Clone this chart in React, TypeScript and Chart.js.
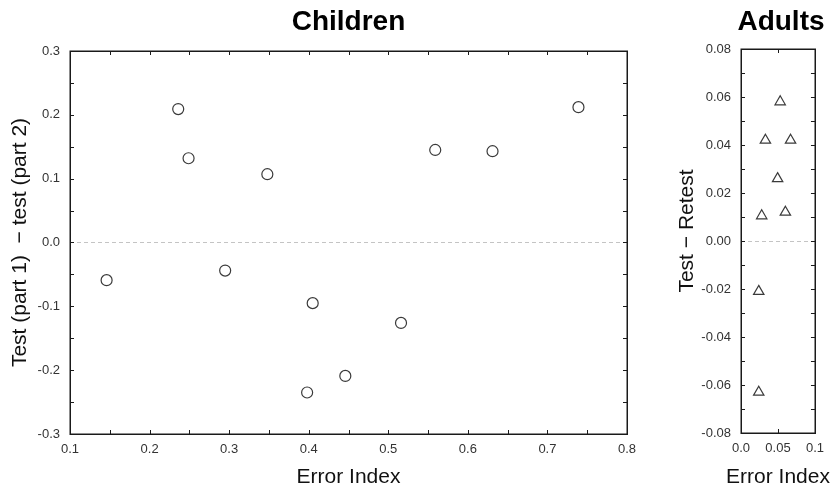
import React, { useEffect, useRef } from 'react';
import { Chart, registerables } from 'chart.js';

Chart.register(...registerables);

// ---- Data ----
const childErrorIndex = [0.146, 0.236, 0.249, 0.295, 0.348, 0.398, 0.405, 0.446, 0.516, 0.559, 0.631, 0.739];
const childDifference = [-0.059, 0.209, 0.132, -0.044, 0.107, -0.235, -0.095, -0.209, -0.126, 0.145, 0.143, 0.212];

const adultErrorIndex = [0.053, 0.033, 0.067, 0.0495, 0.028, 0.06, 0.024, 0.024];
const adultDifference = [0.058, 0.042, 0.042, 0.026, 0.0105, 0.012, -0.021, -0.063];

const childXTickLabels = ['0.1', '0.2', '0.3', '0.4', '0.5', '0.6', '0.7', '0.8'];
const childYTickLabels = ['-0.3', '-0.2', '-0.1', '0.0', '0.1', '0.2', '0.3'];
const adultXTickLabels = ['0.0', '0.05', '0.1'];
const adultYTickLabels = ['-0.08', '-0.06', '-0.04', '-0.02', '0.00', '0.02', '0.04', '0.06', '0.08'];

const childTitle = 'Children';
const adultTitle = 'Adults';
const childYTitle = 'Test (part 1)  \u2212 test (part 2)';
const adultYTitle = 'Test \u2212 Retest';
const xTitle = 'Error Index';

const FONT = '"Liberation Sans", Arial, Helvetica, sans-serif';

const panelPlugin = {
  id: 'panel',
  afterDatasetsDraw(chart: any, _args: any, opts: any) {
    const { ctx, chartArea: a, scales } = chart;
    const xs = scales.x;
    const ys = scales.y;
    ctx.save();
    // inward tick marks
    ctx.strokeStyle = opts.frameColor;
    ctx.lineWidth = 1;
    ctx.beginPath();
    const nx = Math.round((xs.max - xs.min) / opts.xStep);
    for (let i = 0; i <= nx; i++) {
      const p = Math.round(xs.getPixelForValue(xs.min + i * opts.xStep)) + 0.5;
      ctx.moveTo(p, a.bottom);
      ctx.lineTo(p, a.bottom - opts.tickLen);
      ctx.moveTo(p, a.top);
      ctx.lineTo(p, a.top + opts.tickLen);
    }
    const ny = Math.round((ys.max - ys.min) / opts.yStep);
    for (let i = 0; i <= ny; i++) {
      const p = Math.round(ys.getPixelForValue(ys.min + i * opts.yStep)) + 0.5;
      ctx.moveTo(a.left, p);
      ctx.lineTo(a.left + opts.tickLen, p);
      ctx.moveTo(a.right, p);
      ctx.lineTo(a.right - opts.tickLen, p);
    }
    ctx.stroke();
    // frame
    ctx.lineWidth = 1.5;
    ctx.strokeRect(Math.round(a.left) + 0.25, Math.round(a.top) + 0.25, Math.round(a.right - a.left), Math.round(a.bottom - a.top));
    // panel title
    ctx.fillStyle = '#000';
    ctx.font = 'bold 28px ' + FONT;
    ctx.textAlign = 'center';
    ctx.textBaseline = 'middle';
    ctx.fillText(opts.title, (a.left + a.right) / 2 + opts.titleDx, opts.titleY);
    // axis titles drawn here when the axis is too narrow for the built-in title
    ctx.fillStyle = '#111';
    ctx.font = '21px ' + FONT;
    if (opts.xTitle) {
      ctx.fillText(opts.xTitle, (a.left + a.right) / 2, opts.xTitleY);
    }
    if (opts.yTitle) {
      ctx.save();
      ctx.translate(opts.yTitleX, (a.top + a.bottom) / 2 + opts.yTitleDy);
      ctx.rotate(-Math.PI / 2);
      ctx.fillText(opts.yTitle, 0, 0);
      ctx.restore();
    }
    ctx.restore();
  },
};

function makeConfig(p: {
  xs: number[]; ys: number[]; xMin: number; xMax: number; xStepMajor: number; xLabels: string[];
  yMin: number; yMax: number; yStepMajor: number; yLabels: string[]; yTitle: string;
  yWidth: number; yTitlePad: number; padTop: number; padRight: number; xHeight: number;
  pointStyle: string; radius: number; title: string; titleDx: number; titleY: number;
  xMinor: number; yMinor: number; customTitles: boolean; yTitleX: number; yTitleDy: number;
}): any {
  return {
    type: 'scatter',
    data: {
      datasets: [
        {
          data: p.xs.map((x, i) => ({ x, y: p.ys[i] })),
          pointStyle: p.pointStyle,
          pointRadius: p.radius,
          pointBorderWidth: 1.2,
          borderColor: '#3a3a3a',
          backgroundColor: 'rgba(255,255,255,0)',
        },
      ],
    },
    options: {
      responsive: false,
      animation: false,
      devicePixelRatio: 1,
      layout: { padding: { top: p.padTop, right: p.padRight, left: 0, bottom: 0 } },
      plugins: {
        legend: { display: false },
        tooltip: { enabled: false },
        title: { display: false },
        panel: {
          frameColor: '#1a1a1a',
          tickLen: 4,
          xStep: p.xMinor,
          yStep: p.yMinor,
          title: p.title,
          titleDx: p.titleDx,
          titleY: p.titleY,
          xTitle: p.customTitles ? xTitle : null,
          xTitleY: 477.5,
          yTitle: p.customTitles ? p.yTitle : null,
          yTitleX: p.yTitleX,
          yTitleDy: p.yTitleDy,
        },
      },
      scales: {
        x: {
          type: 'linear',
          min: p.xMin,
          max: p.xMax,
          afterFit: (s: any) => { s.height = p.xHeight; },
          ticks: {
            stepSize: p.xStepMajor,
            color: '#333',
            font: { size: 13, family: FONT },
            padding: 8,
            maxRotation: 0,
            autoSkip: false,
            callback: (v: any, i: number) => p.xLabels[i] ?? '',
          },
          grid: { display: false, drawTicks: false },
          border: { display: false },
          title: {
            display: !p.customTitles,
            text: xTitle,
            color: '#111',
            font: { size: 21, family: FONT, lineHeight: 1 },
            padding: { top: 0, bottom: 0 },
          },
        },
        y: {
          type: 'linear',
          min: p.yMin,
          max: p.yMax,
          afterFit: (s: any) => { s.width = p.yWidth; },
          ticks: {
            stepSize: p.yStepMajor,
            color: '#333',
            font: { size: 13, family: FONT },
            padding: 10,
            autoSkip: false,
            callback: (v: any, i: number) => p.yLabels[i] ?? '',
          },
          grid: {
            drawTicks: false,
            lineWidth: 1,
            color: (c: any) => (c.tick && Math.abs(c.tick.value) < 1e-9 ? '#c4c4c4' : 'rgba(0,0,0,0)'),
          },
          border: { display: false, dash: [4, 3] },
          title: {
            display: !p.customTitles,
            text: p.yTitle,
            color: '#111',
            font: { size: 21, family: FONT, lineHeight: 1 },
            padding: { top: p.yTitlePad, bottom: 0 },
          },
        },
      },
    },
    plugins: [panelPlugin],
  };
}

function ChartCanvas({ config, width, height, left }: { config: any; width: number; height: number; left: number }) {
  const ref = useRef<HTMLCanvasElement | null>(null);
  useEffect(() => {
    if (!ref.current) return;
    const chart = new Chart(ref.current, config);
    return () => chart.destroy();
  }, [config]);
  return (
    <canvas
      ref={ref}
      width={width}
      height={height}
      style={{ position: 'absolute', left, top: 0, width, height, display: 'block' }}
    />
  );
}

const childConfig = makeConfig({
  xs: childErrorIndex, ys: childDifference,
  xMin: 0.1, xMax: 0.8, xStepMajor: 0.1, xLabels: childXTickLabels,
  yMin: -0.3, yMax: 0.3, yStepMajor: 0.1, yLabels: childYTickLabels, yTitle: childYTitle,
  yWidth: 70, yTitlePad: 10, padTop: 51, padRight: 33, xHeight: 54,
  pointStyle: 'circle', radius: 5.5, title: childTitle, titleDx: 0, titleY: 22.5,
  xMinor: 0.05, yMinor: 0.05, customTitles: false, yTitleX: 0, yTitleDy: 0,
});

const adultConfig = makeConfig({
  xs: adultErrorIndex, ys: adultDifference,
  xMin: 0, xMax: 0.1, xStepMajor: 0.05, xLabels: adultXTickLabels,
  yMin: -0.08, yMax: 0.08, yStepMajor: 0.02, yLabels: adultYTickLabels, yTitle: adultYTitle,
  yWidth: 81, yTitlePad: 16, padTop: 49, padRight: 15, xHeight: 55,
  pointStyle: 'triangle', radius: 6, title: adultTitle, titleDx: 3, titleY: 22.5,
  xMinor: 0.05, yMinor: 0.01, customTitles: true, yTitleX: 27, yTitleDy: -10,
});

export default function App() {
  return (
    <div style={{ position: 'absolute', left: 0, top: 0, width: 832, height: 488, background: '#fff', overflow: 'hidden' }}>
      <ChartCanvas config={childConfig} width={660} height={488} left={0} />
      <ChartCanvas config={adultConfig} width={172} height={488} left={660} />
    </div>
  );
}
